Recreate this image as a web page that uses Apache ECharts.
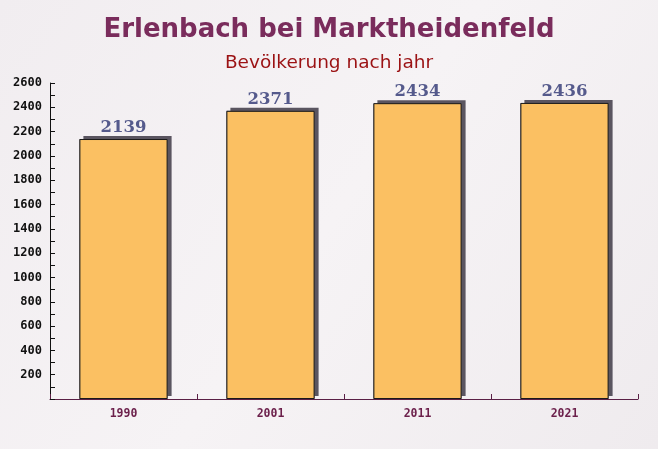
<!DOCTYPE html>
<html><head><meta charset="utf-8">
<script src="https://cdn.jsdelivr.net/npm/echarts@6/dist/echarts.min.js"></script>
<style>html,body{margin:0;padding:0;}#c{width:658px;height:449px;}</style>
</head><body><div id="c"></div>
<script>
const categories = ['1990', '2001', '2011', '2021'];
const population = [2139, 2371, 2434, 2436];
const titleText = 'Erlenbach bei Marktheidenfeld';
const subtitleText = 'Bevölkerung nach jahr';

const chart = echarts.init(document.getElementById('c'));
chart.setOption({
  animation: false,
  backgroundColor: {
    type: 'linear', x: 0, y: 0, x2: 1, y2: 1,
    colorStops: [{offset: 0, color: '#f1edf0'}, {offset: 0.5, color: '#f6f3f5'}, {offset: 1, color: '#efebee'}]
  },
  title: {
    text: titleText, subtext: subtitleText, left: 'center', top: 12, itemGap: 11,
    textStyle: {fontFamily: 'DejaVu Sans', fontWeight: 'bold', fontSize: 26, color: '#7a2c5c'},
    subtextStyle: {fontFamily: 'DejaVu Sans', fontSize: 18.5, color: '#9b1214'}
  },
  grid: {left: 50, right: 20, top: 83, bottom: 50},
  xAxis: {
    type: 'category', data: categories,
    axisLine: {lineStyle: {color: '#5a1f45', width: 1}},
    axisTick: {show: true, inside: true, length: 5, alignWithLabel: false, lineStyle: {color: '#5a1f45'}},
    axisLabel: {fontFamily: 'DejaVu Sans Mono', fontWeight: 'bold', fontSize: 11.5, color: '#6b1f4a', margin: 9}
  },
  yAxis: {
    type: 'value', min: 0, max: 2600, interval: 200,
    axisLine: {show: true, lineStyle: {color: '#111', width: 1}},
    axisTick: {show: true, inside: true, length: 5, lineStyle: {color: '#111'}},
    minorTick: {show: true, splitNumber: 2, length: 5, lineStyle: {color: '#111'}},
    splitLine: {show: false},
    axisLabel: {showMinLabel: false, formatter: v => String(v), fontFamily: 'DejaVu Sans Mono', fontWeight: 'bold', fontSize: 12, color: '#111', margin: 8}
  },
  series: [{
    type: 'bar', data: population, barWidth: '60%', z: 1, silent: true,
    itemStyle: {
      color: '#5a5560',
      shadowColor: '#5a5560', shadowOffsetX: 4, shadowOffsetY: -3, shadowBlur: 0
    }
  }, {
    type: 'bar', data: population, barWidth: '60%', barGap: '-100%', z: 2,
    itemStyle: {color: '#fbc062', borderColor: '#1a1a1a', borderWidth: 1},
    label: {
      show: true, position: 'top', distance: 3,
      fontFamily: 'DejaVu Serif', fontWeight: 'bold', fontSize: 16.5, color: '#555a8c'
    }
  }]
});
</script></body></html>
